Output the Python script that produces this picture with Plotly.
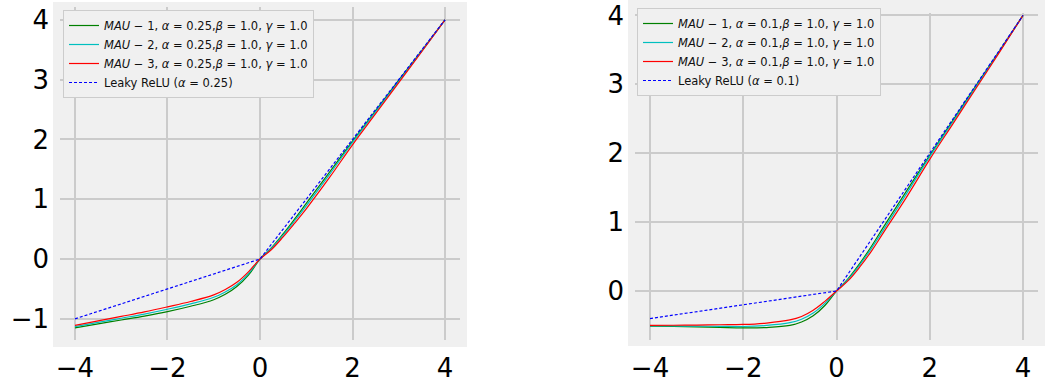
import plotly.graph_objects as go

# ---- data ----
x_pts = [-4, -3.5, -3, -2.5, -2, -1.5, -1, -0.75, -0.5, -0.25, 0, 0.25, 0.5, 0.75, 1, 1.5, 2, 2.5, 3, 3.5, 4]

# left panel (alpha = 0.25)
left_mau1 = [-1.15, -1.085, -1.02, -0.955, -0.88, -0.79, -0.68, -0.59, -0.46, -0.27, 0, 0.19, 0.42, 0.67, 0.93, 1.45, 1.97, 2.48, 2.99, 3.49, 4.0]
left_mau2 = [-1.13, -1.06, -0.99, -0.92, -0.84, -0.75, -0.64, -0.55, -0.43, -0.245, 0, 0.18, 0.40, 0.64, 0.89, 1.41, 1.95, 2.46, 2.97, 3.48, 4.0]
left_mau3 = [-1.11, -1.035, -0.96, -0.885, -0.80, -0.71, -0.60, -0.51, -0.39, -0.215, 0, 0.16, 0.37, 0.60, 0.84, 1.36, 1.91, 2.43, 2.95, 3.47, 4.0]
left_leaky_x = [-4, 0, 4]
left_leaky_y = [-1.0, 0, 4.0]

# right panel (alpha = 0.1)
right_mau1 = [-0.51, -0.515, -0.52, -0.528, -0.535, -0.53, -0.50, -0.45, -0.36, -0.21, 0, 0.18, 0.40, 0.65, 0.92, 1.45, 1.97, 2.48, 2.99, 3.49, 4.0]
right_mau2 = [-0.505, -0.507, -0.51, -0.513, -0.515, -0.50, -0.46, -0.41, -0.32, -0.18, 0, 0.17, 0.38, 0.62, 0.88, 1.41, 1.95, 2.46, 2.97, 3.48, 4.0]
right_mau3 = [-0.50, -0.497, -0.495, -0.49, -0.485, -0.465, -0.42, -0.37, -0.28, -0.15, 0, 0.15, 0.35, 0.58, 0.84, 1.36, 1.91, 2.43, 2.95, 3.47, 4.0]
right_leaky_x = [-4, 0, 4]
right_leaky_y = [-0.4, 0, 4.0]

left_names = [
    "<i>MAU</i> − 1, <i>α</i> = 0.25,<i>β</i> = 1.0, <i>γ</i> = 1.0",
    "<i>MAU</i> − 2, <i>α</i> = 0.25,<i>β</i> = 1.0, <i>γ</i> = 1.0",
    "<i>MAU</i> − 3, <i>α</i> = 0.25,<i>β</i> = 1.0, <i>γ</i> = 1.0",
    "Leaky ReLU (<i>α</i> = 0.25)",
]
right_names = [
    "<i>MAU</i> − 1, <i>α</i> = 0.1,<i>β</i> = 1.0, <i>γ</i> = 1.0",
    "<i>MAU</i> − 2, <i>α</i> = 0.1,<i>β</i> = 1.0, <i>γ</i> = 1.0",
    "<i>MAU</i> − 3, <i>α</i> = 0.1,<i>β</i> = 1.0, <i>γ</i> = 1.0",
    "Leaky ReLU (<i>α</i> = 0.1)",
]

x_ticks = [-4, -2, 0, 2, 4]
x_tick_text = ["−4", "−2", "0", "2", "4"]
left_y_ticks = [-1, 0, 1, 2, 3, 4]
left_y_text = ["−1", "0", "1", "2", "3", "4"]
right_y_ticks = [0, 1, 2, 3, 4]
right_y_text = ["0", "1", "2", "3", "4"]

colors = ["#008000", "#00bfbf", "#ff0000", "#0000ff"]

W, H = 1045, 382
fig = go.Figure()

def add_panel(series, leaky_x, leaky_y, names, xa, ya, legend):
    for i, ys in enumerate(series):
        fig.add_trace(go.Scatter(
            x=x_pts, y=ys, mode="lines", name=names[i],
            line=dict(color=colors[i], width=1.2, shape="spline", smoothing=1.1),
            xaxis=xa, yaxis=ya, legend=legend, legendgroup=legend + str(i),
        ))
    fig.add_trace(go.Scatter(
        x=leaky_x, y=leaky_y, mode="lines", name=names[3],
        line=dict(color=colors[3], width=1.2, dash="3px,2px"),
        xaxis=xa, yaxis=ya, legend=legend, legendgroup=legend + "3",
    ))

add_panel([left_mau1, left_mau2, left_mau3], left_leaky_x, left_leaky_y, left_names, "x", "y", "legend")
add_panel([right_mau1, right_mau2, right_mau3], right_leaky_x, right_leaky_y, right_names, "x2", "y2", "legend2")

def px_x(p):
    return p / W

def px_y(p):
    return 1 - p / H

grid = "#cbcbcb"
tickfont = dict(family="DejaVu Sans", size=26, color="black")
axis_common = dict(showgrid=True, gridcolor=grid, gridwidth=2, zeroline=False,
                   showline=False, ticks="", tickfont=tickfont, automargin=False)

legend_common = dict(bgcolor="#f0f0f0", bordercolor="#cccccc", borderwidth=1,
                     font=dict(family="DejaVu Sans", size=11.5, color="#111111"),
                     xanchor="left", yanchor="top", itemwidth=30, tracegroupgap=0)

fig.update_layout(
    width=W, height=H,
    margin=dict(l=0, r=0, t=0, b=0, autoexpand=False),
    paper_bgcolor="white",
    plot_bgcolor="#f0f0f0",
    showlegend=True,
    xaxis=dict(domain=[px_x(60), px_x(460)], range=[-4.324, 4.324], tickvals=x_ticks,
               ticktext=x_tick_text, anchor="y", ticklabelstandoff=10, **axis_common),
    yaxis=dict(domain=[px_y(340), px_y(7)], range=[-1.354, 4.214], tickvals=left_y_ticks,
               ticktext=left_y_text, anchor="x", ticklabelstandoff=10, **axis_common),
    xaxis2=dict(domain=[px_x(635), px_x(1038)], range=[-4.322, 4.322], tickvals=x_ticks,
                ticktext=x_tick_text, anchor="y2", ticklabelstandoff=10, **axis_common),
    yaxis2=dict(domain=[px_y(340), px_y(13)], range=[-0.711, 4.035], tickvals=right_y_ticks,
                ticktext=right_y_text, anchor="x2", ticklabelstandoff=10, **axis_common),
    legend=dict(x=px_x(63), y=px_y(10), **legend_common),
    legend2=dict(x=px_x(637), y=px_y(8), **legend_common),
    shapes=[
        dict(type="rect", xref="paper", yref="paper", x0=px_x(53), x1=px_x(467),
             y0=px_y(347), y1=px_y(2), fillcolor="#f0f0f0", line=dict(width=0), layer="below"),
        dict(type="rect", xref="paper", yref="paper", x0=px_x(628), x1=px_x(1045),
             y0=px_y(346), y1=px_y(0), fillcolor="#f0f0f0", line=dict(width=0), layer="below"),
    ],
)

fig.write_html("out.html",
               config={"displayModeBar": False},
               post_script="document.body.style.margin='0';document.body.style.overflow='hidden';")
